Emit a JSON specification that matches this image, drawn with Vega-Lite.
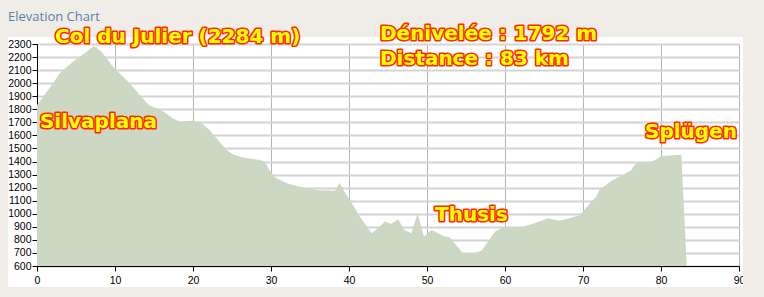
{
  "$schema": "https://vega.github.io/schema/vega-lite/v6.json",
  "width": 702,
  "height": 222,
  "autosize": {"type": "none"},
  "padding": {"left": 37, "top": 44, "right": 25, "bottom": 31},
  "background": "white",
  "title": {
    "text": "Elevation Chart",
    "anchor": "start",
    "frame": "group",
    "dx": -29,
    "offset": -34,
    "baseline": "alphabetic",
    "font": "Open Sans",
    "fontSize": 13,
    "fontWeight": "normal",
    "color": "#5a80aa"
  },
  "config": {
    "view": {"stroke": null, "fill": "white"},
    "axis": {
      "labelFont": "Liberation Sans",
      "labelFontSize": 10.5,
      "labelColor": "black",
      "labelOverlap": false,
      "domainColor": "black",
      "domainWidth": 1,
      "tickColor": "black",
      "tickSize": 5,
      "title": null
    }
  },
  "datasets": {
    "profile": [
      {"km": 0, "elev": 1833},
      {"km": 1.6, "elev": 1961},
      {"km": 2.9, "elev": 2075},
      {"km": 4.6, "elev": 2165},
      {"km": 6.1, "elev": 2229},
      {"km": 7.3, "elev": 2284},
      {"km": 8.3, "elev": 2241},
      {"km": 9.7, "elev": 2127},
      {"km": 10.8, "elev": 2063},
      {"km": 11.9, "elev": 2000},
      {"km": 13.2, "elev": 1905},
      {"km": 14.4, "elev": 1830},
      {"km": 15.7, "elev": 1800},
      {"km": 16.2, "elev": 1782},
      {"km": 17.4, "elev": 1731},
      {"km": 18.3, "elev": 1705},
      {"km": 20, "elev": 1713},
      {"km": 21.1, "elev": 1693},
      {"km": 22.1, "elev": 1641},
      {"km": 23.2, "elev": 1565},
      {"km": 24.3, "elev": 1488},
      {"km": 25.1, "elev": 1455},
      {"km": 26.4, "elev": 1430},
      {"km": 28.6, "elev": 1412},
      {"km": 29.2, "elev": 1399},
      {"km": 29.8, "elev": 1335},
      {"km": 30.5, "elev": 1279},
      {"km": 32, "elev": 1233},
      {"km": 33.3, "elev": 1213},
      {"km": 35, "elev": 1192},
      {"km": 36.2, "elev": 1180},
      {"km": 38.2, "elev": 1177},
      {"km": 38.8, "elev": 1235},
      {"km": 39.4, "elev": 1169},
      {"km": 40.1, "elev": 1105},
      {"km": 41.4, "elev": 978},
      {"km": 42.9, "elev": 850},
      {"km": 43.7, "elev": 889},
      {"km": 44.6, "elev": 940},
      {"km": 45.4, "elev": 922},
      {"km": 46.3, "elev": 958},
      {"km": 47.1, "elev": 876},
      {"km": 48, "elev": 850},
      {"km": 48.8, "elev": 1004},
      {"km": 49.6, "elev": 825},
      {"km": 50.6, "elev": 876},
      {"km": 52.1, "elev": 830},
      {"km": 52.9, "elev": 820},
      {"km": 54.6, "elev": 697},
      {"km": 55.9, "elev": 697},
      {"km": 57, "elev": 716},
      {"km": 58.7, "elev": 863},
      {"km": 59.9, "elev": 901},
      {"km": 60.8, "elev": 889},
      {"km": 62.3, "elev": 901},
      {"km": 63.8, "elev": 927},
      {"km": 65.5, "elev": 965},
      {"km": 67, "elev": 947},
      {"km": 68.3, "elev": 965},
      {"km": 69.6, "elev": 991},
      {"km": 70.9, "elev": 1080},
      {"km": 71.7, "elev": 1131},
      {"km": 72.1, "elev": 1182},
      {"km": 73.8, "elev": 1259},
      {"km": 75.1, "elev": 1297},
      {"km": 76.2, "elev": 1335},
      {"km": 76.8, "elev": 1387},
      {"km": 78.8, "elev": 1399},
      {"km": 79.6, "elev": 1425},
      {"km": 80, "elev": 1443},
      {"km": 82.6, "elev": 1452},
      {"km": 83.3, "elev": 600}
    ],
    "labels": [
      {"label": "Col du Julier (2284 m)", "km": 2.31, "elev": 2304},
      {"label": "Dénivelée : 1792 m", "km": 43.97, "elev": 2329},
      {"label": "Distance : 83 km", "km": 43.97, "elev": 2143},
      {"label": "Silvaplana", "km": 0.38, "elev": 1653},
      {"label": "Splügen", "km": 77.95, "elev": 1584},
      {"label": "Thusis", "km": 51.03, "elev": 941}
    ]
  },
  "layer": [
    {
      "data": {"name": "profile"},
      "mark": {"type": "area", "color": "#ccd7c4", "opacity": 1},
      "encoding": {
        "x": {
          "field": "km", "type": "quantitative",
          "scale": {"domain": [0, 90], "nice": false, "zero": false},
          "axis": {
            "values": [0, 10, 20, 30, 40, 50, 60, 70, 80, 90],
            "tickCount": 20,
            "gridColor": "#b5b5b5", "gridWidth": 1, "labelPadding": 4, "labelFlush": false
          }
        },
        "y": {
          "field": "elev", "type": "quantitative",
          "scale": {"domain": [600, 2300], "nice": false, "zero": false},
          "axis": {
            "values": [600, 700, 800, 900, 1000, 1100, 1200, 1300, 1400, 1500, 1600, 1700, 1800, 1900, 2000, 2100, 2200, 2300],
            "tickCount": 30,
            "format": "d",
            "gridColor": "#d4d4d4", "gridWidth": 2, "labelPadding": 1, "labelFlush": false
          }
        },
        "y2": {"datum": 600}
      }
    },
    {
      "data": {"values": [{}]},
      "mark": {"type": "rect", "color": "#f0ede8"},
      "encoding": {
        "x": {"datum": -4.8, "type": "quantitative"},
        "x2": {"datum": -3.72},
        "y": {"datum": 360, "type": "quantitative"},
        "y2": {"datum": 2637}
      }
    },
    {
      "data": {"values": [{}]},
      "mark": {"type": "rect", "color": "#f0ede8"},
      "encoding": {
        "x": {"datum": 90.51, "type": "quantitative"},
        "x2": {"datum": 93.2},
        "y": {"datum": 360, "type": "quantitative"},
        "y2": {"datum": 2637}
      }
    },
    {
      "data": {"values": [{}]},
      "mark": {"type": "rect", "color": "#f0ede8"},
      "encoding": {
        "x": {"datum": -4.8, "type": "quantitative"},
        "x2": {"datum": 93.2},
        "y": {"datum": 2353.6, "type": "quantitative"},
        "y2": {"datum": 2637}
      }
    },
    {
      "data": {"values": [{}]},
      "mark": {"type": "rect", "color": "#f0ede8"},
      "encoding": {
        "x": {"datum": -4.8, "type": "quantitative"},
        "x2": {"datum": 93.2},
        "y": {"datum": 360, "type": "quantitative"},
        "y2": {"datum": 439.2}
      }
    },
    {
      "data": {"name": "labels"},
      "mark": {
        "type": "text", "align": "left", "baseline": "alphabetic",
        "font": "DejaVu Sans", "fontWeight": "bold", "fontSize": 20,
        "fill": "#ff2a00", "stroke": "#ff2a00", "strokeWidth": 3.2, "strokeJoin": "round"
      },
      "encoding": {
        "x": {"field": "km", "type": "quantitative"},
        "y": {"field": "elev", "type": "quantitative"},
        "text": {"field": "label"}
      }
    },
    {
      "data": {"name": "labels"},
      "mark": {
        "type": "text", "align": "left", "baseline": "alphabetic",
        "font": "DejaVu Sans", "fontWeight": "bold", "fontSize": 20,
        "fill": "#ffff00"
      },
      "encoding": {
        "x": {"field": "km", "type": "quantitative"},
        "y": {"field": "elev", "type": "quantitative"},
        "text": {"field": "label"}
      }
    }
  ]
}
